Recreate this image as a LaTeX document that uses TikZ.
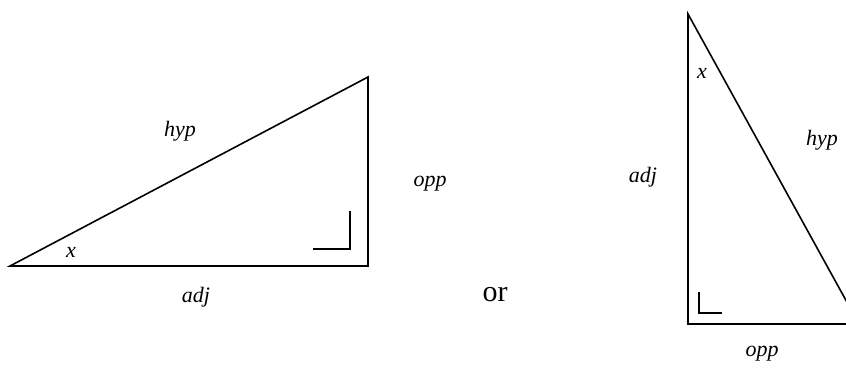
\documentclass[tikz,border=0pt]{standalone}
\usepackage{fontspec}
\setmainfont{Liberation Serif}
\begin{document}
\begin{tikzpicture}[x=1pt,y=-1pt,
  side/.style={line width=1.6pt,line join=miter},
  ramark/.style={line width=1.4pt},
  lab/.style={font=\fontsize{22}{26}\selectfont\itshape,inner sep=0pt},
  word/.style={font=\fontsize{30}{34}\selectfont,inner sep=0pt}]
\useasboundingbox (0,0) rectangle (846,367);
\clip (0,0) rectangle (846,367);
% left triangle
\coordinate (A) at (10,266);
\coordinate (B) at (368,266);
\coordinate (C) at (368,77);
\draw[side] (A) -- (B) -- (C) -- cycle;
\coordinate (m1) at (313,249);
\coordinate (m2) at (350,249);
\coordinate (m3) at (350,211);
\draw[ramark] (m1) -- (m2) -- (m3);
\node[lab] (hyp1) at (180,131) {hyp};
\node[lab] (opp1) at (430,184) {opp};
\node[lab] (x1) at (71,252) {x};
\node[lab] (adj1) at (196,297) {adj};
\node[word] (or) at (495,295) {or};
% right triangle
\coordinate (P) at (688,14);
\coordinate (Q) at (688,324);
\coordinate (R) at (859,324);
\draw[side] (P) -- (Q) -- (R) -- cycle;
\coordinate (n1) at (699,292);
\coordinate (n2) at (699,313);
\coordinate (n3) at (722,313);
\draw[ramark] (n1) -- (n2) -- (n3);
\node[lab] (x2) at (702,73) {x};
\node[lab] (hyp2) at (822,140) {hyp};
\node[lab] (adj2) at (643,177) {adj};
\node[lab] (opp2) at (762,354) {opp};
\end{tikzpicture}
\end{document}
